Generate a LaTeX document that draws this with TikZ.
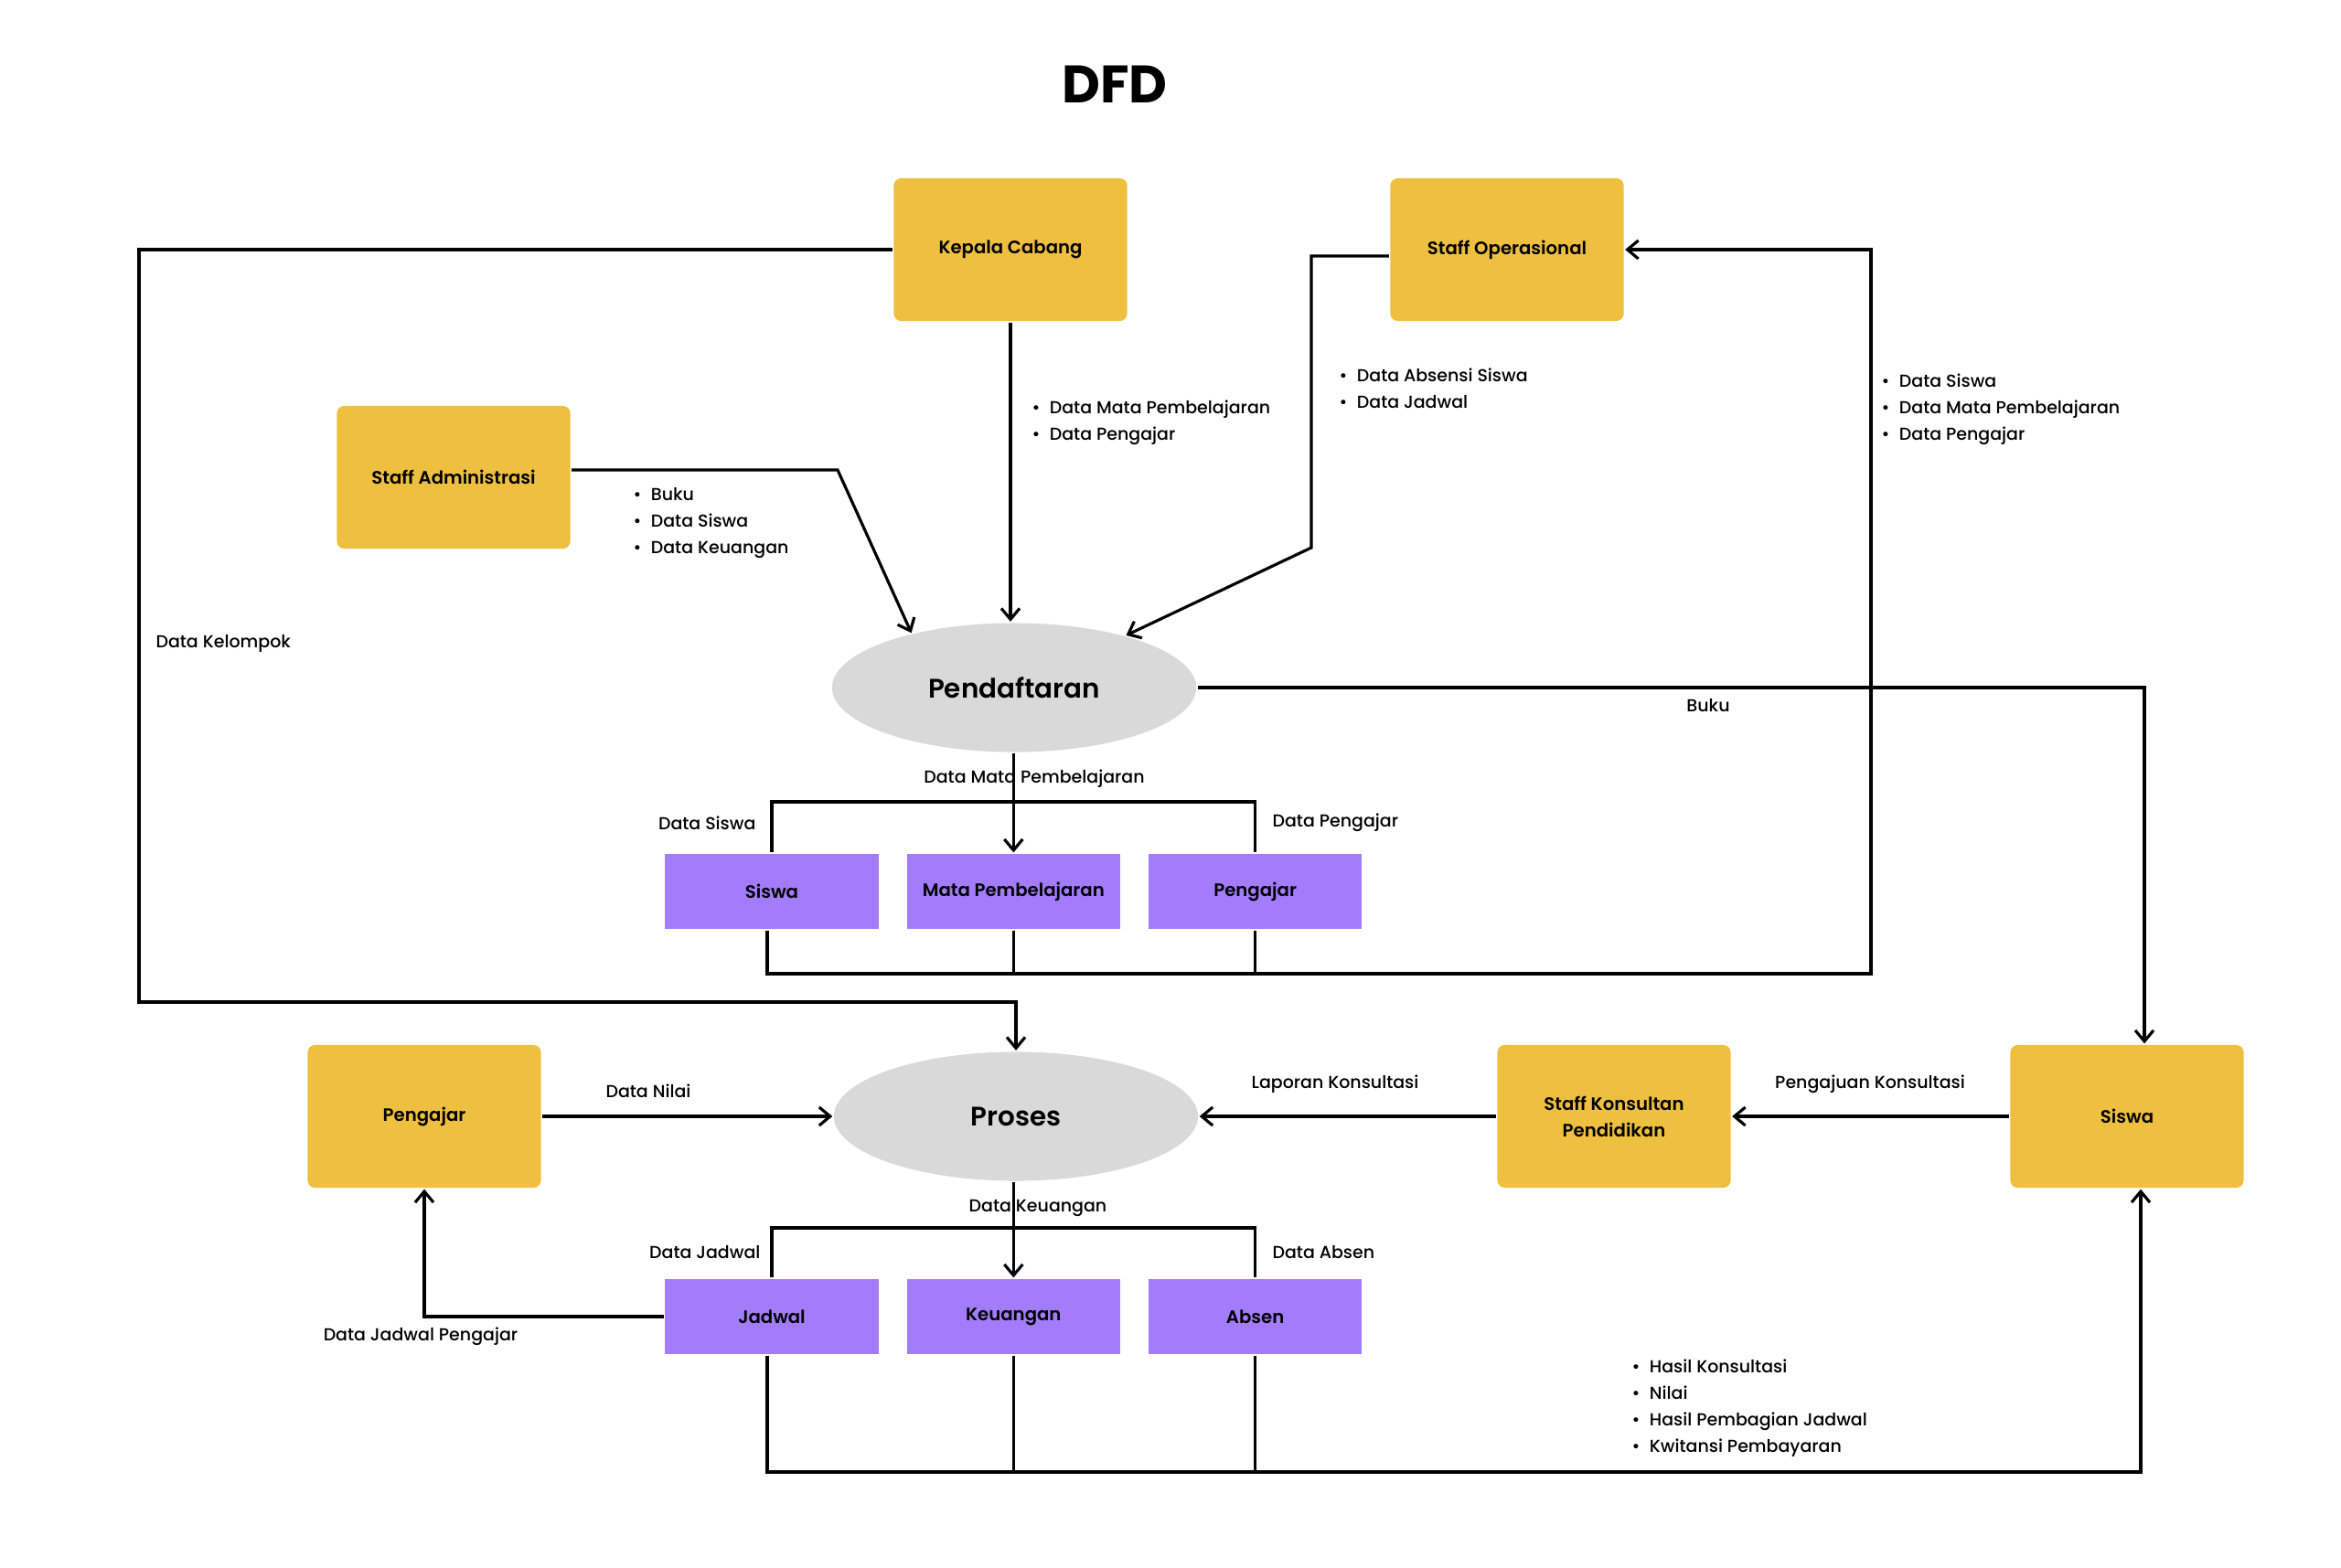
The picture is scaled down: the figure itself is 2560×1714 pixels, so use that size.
\documentclass[tikz,border=0pt]{standalone}
\usepackage{fontspec}
\setmainfont{Poppins}
\newfontfamily\popmed{Poppins Medium}
\newfontfamily\popsemi{Poppins SemiBold}
\usepackage{tikz}
\usetikzlibrary{positioning}
\usetikzlibrary{arrows.meta}
\usetikzlibrary{calc}
\usetikzlibrary{math}
\usetikzlibrary{shapes.geometric}

\definecolor{entyellow}{HTML}{EFBF40}
\definecolor{storepurple}{HTML}{A27CFB}
\definecolor{procgrey}{HTML}{D9D9D9}

\newcommand{\bul}{\textbullet\hspace{3pt}}

\begin{document}
\begin{tikzpicture}[x=0.01cm,y=-0.01cm,line width=0.9pt,
  entity/.style={fill=entyellow,rounded corners=0.8mm,minimum width=2.55cm,
    minimum height=1.56cm,align=center,font=\fontsize{5.6}{8.2}\selectfont\popsemi},
  process/.style={ellipse,fill=procgrey,minimum width=3.98cm,minimum height=1.41cm,
    font=\fontsize{8.35}{10}\selectfont\popsemi},
  store/.style={fill=storepurple,minimum width=2.33cm,minimum height=0.82cm,
    inner xsep=0pt,font=\fontsize{5.6}{8.2}\selectfont\popsemi},
  lbl/.style={inner sep=0pt,align=left,font=\fontsize{5.4}{8.2}\selectfont\popmed},
  flow/.style={-{Straight Barb[length=1.2mm,width=2mm]}}]

  \tikzmath{
    \gap = 0.28; % space between data stores (cm)
  }

  \useasboundingbox (0,0) rectangle (2560,1714);

  % title
  \node[font=\fontsize{16.4}{20}\selectfont\bfseries] (title) at (1219,92) {DFD};

  % external entities
  \node[entity] (kepala)  at (1105,273)  {Kepala Cabang};
  \node[entity] (stafop)  at (1648,273)  {Staff Operasional};
  \node[entity] (stafadm) at (496,522)   {Staff Administrasi};
  \node[entity] (guru)    at (464,1221)  {Pengajar};
  \node[entity] (konsul)  at (1765,1221) {Staff Konsultan\\Pendidikan};
  \node[entity] (murid)   at (2326,1221) {Siswa};

  % processes
  \node[process] (daftar) at (1109,752)  {Pendaftaran};
  \node[process] (proses) at (1111,1221) {Proses};

  % data stores
  \node[store] (dsiswa)                        at (844,975)  {Siswa};
  \node[store] (dmapel)    [right=\gap cm of dsiswa] {Mata Pembelajaran};
  \node[store] (dpengajar) [right=\gap cm of dmapel] {Pengajar};
  \node[store] (djadwal)                       at (844,1440) {Jadwal};
  \node[store] (dkeu)      [right=\gap cm of djadwal] {Keuangan};
  \node[store] (dabsen)    [right=\gap cm of dkeu]    {Absen};

  % bend points
  \coordinate (kel)   at (152,1096);
  \coordinate (adm)   at (916,514);
  \coordinate (ops)   at (1434,599);
  \coordinate (back)  at (2046,1065);
  \coordinate (brtop) at (0,877);
  \coordinate (brbot) at (0,1343);
  \coordinate (hasil) at (2341,1610);

  % Kepala Cabang
  \draw[flow] (kepala.west) -| (kel) -| (proses.north);
  \draw[flow] (kepala.south) -- (kepala.south |- daftar.north);

  % Staff Administrasi and Staff Operasional into Pendaftaran
  \draw[flow] (stafadm.east |- adm) -- (adm) -- (daftar.152);
  \draw[flow] ($(stafop.west)+(0,7)$) -| (ops) -- (daftar.25);

  % Pendaftaran to its data stores
  \draw[flow] (dmapel.north |- daftar.south) -- (dmapel.north);
  \draw (dsiswa.north) |- (brtop -| dpengajar.north) -- (dpengajar.north);

  % data stores back to Staff Operasional
  \draw[flow] ($(dsiswa.south)+(-5,0)$) |- (back) |- (stafop.east);
  \draw (dmapel.south) -- (dmapel.south |- back);
  \draw (dpengajar.south) -- (dpengajar.south |- back);

  % Buku to Siswa
  \draw[flow] (daftar.east) -| ($(murid.north)+(19,0)$);

  % Proses and its data stores
  \draw[flow] (dkeu.north |- proses.south) -- (dkeu.north);
  \draw (djadwal.north) |- (brbot -| dabsen.north) -- (dabsen.north);
  \draw[flow] (djadwal.west) -| (guru.south);
  \draw[flow] ($(djadwal.south)+(-5,0)$) |- (hasil) -- (hasil |- murid.south);
  \draw (dkeu.south) -- (dkeu.south |- hasil);
  \draw (dabsen.south) -- (dabsen.south |- hasil);

  % middle row
  \draw[flow] (guru.east) -- (proses.west);
  \draw[flow] (konsul.west) -- (proses.east);
  \draw[flow] (murid.west) -- (konsul.east);

  % labels
  \node[lbl,anchor=west] (lkel)    at (169,704)  {Data Kelompok};
  \node[lbl,anchor=west] (lkepala) at (1127,462) {\bul Data Mata Pembelajaran\\\bul Data Pengajar};
  \node[lbl,anchor=west] (ladm)    at (691,572)  {\bul Buku\\\bul Data Siswa\\\bul Data Keuangan};
  \node[lbl,anchor=west] (lops)    at (1463,425) {\bul Data Absensi Siswa\\\bul Data Jadwal};
  \node[lbl,anchor=west] (lback)   at (2056,448) {\bul Data Siswa\\\bul Data Mata Pembelajaran\\\bul Data Pengajar};
  \node[lbl]             (lbuku)   at (1868,772) {Buku};
  \node[lbl]             (lmapel)  at (1131,852) {Data Mata Pembelajaran};
  \node[lbl,anchor=east] (lsiswa)  at (828,900)  {Data Siswa};
  \node[lbl,anchor=west] (lpeng)   at (1390,900) {Data Pengajar};
  \node[lbl]             (lkeu)    at (1135,1321) {Data Keuangan};
  \node[lbl,anchor=east] (ljadwal) at (833,1370) {Data Jadwal};
  \node[lbl,anchor=west] (labsen)  at (1390,1370) {Data Absen};
  \node[lbl]             (ljp)     at (460,1462) {Data Jadwal Pengajar};
  \node[lbl,anchor=west] (lhasil)  at (1783,1540) {\bul Hasil Konsultasi\\\bul Nilai\\\bul Hasil Pembagian Jadwal\\\bul Kwitansi Pembayaran};
  \node[lbl]             (lnilai)  at (709,1193) {Data Nilai};
  \node[lbl]             (llapor)  at (1460,1186) {Laporan Konsultasi};
  \node[lbl]             (laju)    at (2045,1186) {Pengajuan Konsultasi};

\end{tikzpicture}
\end{document}
